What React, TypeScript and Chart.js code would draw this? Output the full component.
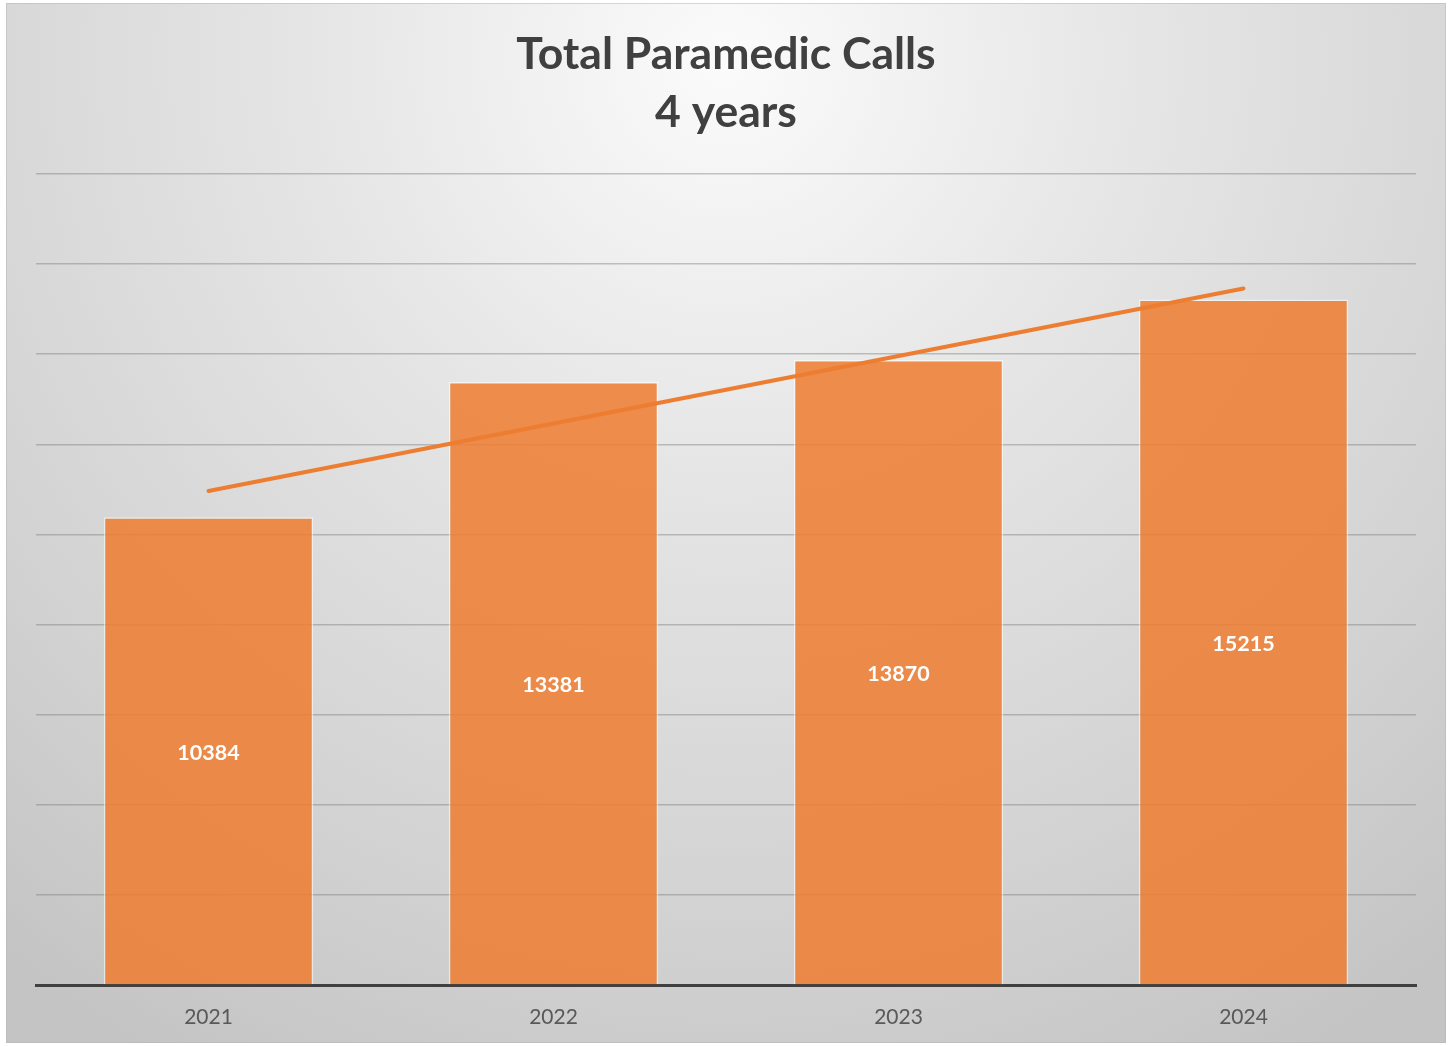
import React, { useEffect, useRef } from "react";
import { Chart, registerables } from "chart.js";

Chart.register(...registerables);

const categories = ["2021", "2022", "2023", "2024"];
const calls = [10384, 13381, 13870, 15215];
const trend = [10965, 12463, 13962, 15460];
const titleLines = ["Total Paramedic Calls", "4 years"];
const yMax = 18000;
const yStep = 2000;

const FONT = "Lato, 'Open Sans', sans-serif";

const bgPlugin = {
  id: "bgPlugin",
  beforeDraw(chart: any) {
    const { ctx, width, height } = chart;
    ctx.save();
    ctx.fillStyle = "#ffffff";
    ctx.fillRect(0, 0, width, height);
    const x0 = 6, y0 = 3, x1 = 1446, y1 = 1043;
    const g = ctx.createRadialGradient(726, 60, 0, 726, 60, 1150);
    g.addColorStop(0, "#fbfbfb");
    g.addColorStop(0.35, "#e6e6e6");
    g.addColorStop(0.75, "#d2d2d2");
    g.addColorStop(1, "#c4c4c4");
    ctx.fillStyle = g;
    ctx.fillRect(x0, y0, x1 - x0, y1 - y0);
    ctx.strokeStyle = "rgba(180,180,180,0.5)";
    ctx.lineWidth = 1;
    ctx.strokeRect(x0 + 0.5, y0 + 0.5, x1 - x0 - 1, y1 - y0 - 1);
    ctx.restore();
  },
};

const textPlugin = {
  id: "textPlugin",
  afterDatasetsDraw(chart: any) {
    const { ctx } = chart;
    ctx.save();
    const meta = chart.getDatasetMeta(0);
    ctx.fillStyle = "#ffffff";
    ctx.font = `bold 21.5px ${FONT}`;
    ctx.textAlign = "center";
    ctx.textBaseline = "middle";
    meta.data.forEach((el: any, i: number) => {
      const mid = (el.y + el.base) / 2;
      ctx.fillText(String(calls[i]), el.x, mid + 2);
    });
    ctx.restore();
  },
  afterDraw(chart: any) {
    const { ctx } = chart;
    ctx.save();
    ctx.fillStyle = "#404040";
    ctx.font = `bold 44.5px ${FONT}`;
    ctx.textAlign = "center";
    ctx.textBaseline = "middle";
    ctx.fillText(titleLines[0], 726, 55);
    ctx.fillText(titleLines[1], 726, 113);
    ctx.restore();
  },
};

export default function App() {
  const ref = useRef<HTMLCanvasElement | null>(null);
  useEffect(() => {
    if (!ref.current) return;
    const chart = new Chart(ref.current, {
      type: "bar",
      data: {
        labels: categories,
        datasets: [
          {
            type: "bar",
            label: "Calls",
            data: calls,
            backgroundColor: "rgba(237,125,49,0.86)",
            borderColor: "rgba(255,255,255,0.55)",
            borderWidth: 1.5,
            barPercentage: 0.607,
            categoryPercentage: 1,
            order: 1,
          } as any,
          {
            type: "line",
            label: "Trend",
            data: trend,
            borderColor: "#ED7D31",
            borderWidth: 4,
            pointRadius: 0,
            borderCapStyle: "round",
            tension: 0,
            order: 0,
          } as any,
        ],
      },
      options: {
        responsive: false,
        animation: false,
        layout: { padding: { left: 36, right: 36, top: 174, bottom: 0 } },
        plugins: {
          legend: { display: false },
          title: { display: false },
          tooltip: { enabled: false },
        },
        scales: {
          x: {
            grid: { display: false, drawTicks: false },
            border: { display: true, color: "#404040", width: 3 },
            ticks: {
              color: "#595959",
              font: { family: FONT, size: 21 },
              padding: 20,
            },
            afterFit(scale: any) {
              scale.height = 61;
            },
          },
          y: {
            min: 0,
            max: yMax,
            ticks: { display: false, stepSize: yStep },
            grid: { color: "rgba(120,120,120,0.42)", lineWidth: 1.5, drawTicks: false },
            border: { display: false },
            afterFit(scale: any) {
              scale.width = 0;
            },
          },
        },
      } as any,
      plugins: [bgPlugin, textPlugin],
    });
    return () => chart.destroy();
  }, []);
  return (
    <div style={{ position: "absolute", left: 0, top: 0, width: 1452, height: 1046 }}>
      <canvas ref={ref} width={1452} height={1046} />
    </div>
  );
}
